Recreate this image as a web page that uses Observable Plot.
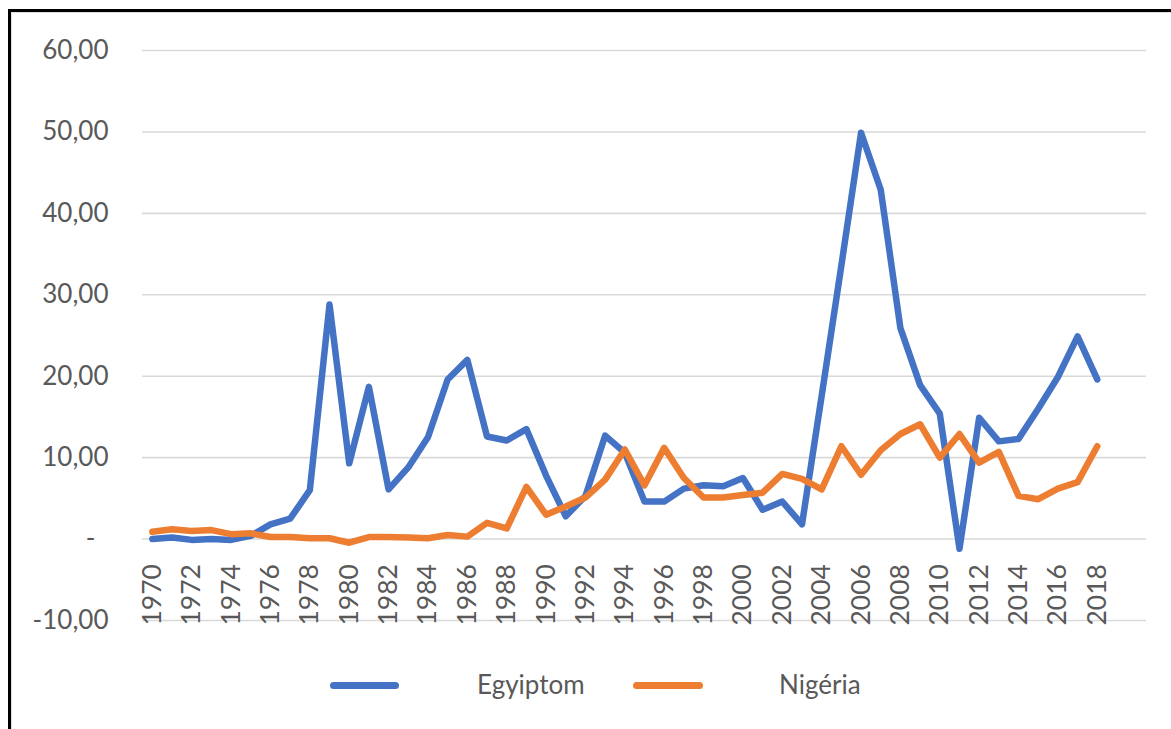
<!DOCTYPE html>
<html>
<head>
<meta charset="utf-8">
<script src="https://cdn.jsdelivr.net/npm/d3@7"></script>
<script src="https://cdn.jsdelivr.net/npm/@observablehq/plot@0.6"></script>
<style>
  html, body { margin: 0; padding: 0; background: #fff; overflow: hidden; }
  body { width: 1171px; height: 729px; position: relative; font-family: Lato, "Open Sans", sans-serif; }
  #frame { position: absolute; left: 8px; top: 9px; width: 1300px; height: 900px; border: 3px solid #000; box-sizing: border-box; box-shadow: inset 1px 1px 0 #ddd; }
  #chart { position: absolute; left: 0; top: 0; }
  .leg-line { position: absolute; height: 7px; border-radius: 4px; }
  .leg-text { position: absolute; font-size: 26px; color: #595959; line-height: 1; }
</style>
</head>
<body>
<div id="frame"></div>
<div id="chart"></div>
<div class="leg-line" style="left:330px; top:682px; width:69px; background:#4472C4"></div>
<div class="leg-text" style="left:477px; top:671px;">Egyiptom</div>
<div class="leg-line" style="left:633px; top:682px; width:70px; background:#ED7D31"></div>
<div class="leg-text" style="left:779px; top:671px;">Nigéria</div>
<script>
const years = d3.range(1970, 2019);
const egyiptom = [0.0, 0.2, -0.1, 0.0, -0.1, 0.4, 1.8, 2.5, 6.0, 28.8,
  9.3, 18.7, 6.1, 8.8, 12.5, 19.6, 22.0, 12.6, 12.1, 13.5,
  7.8, 2.8, 5.3, 12.7, 10.6, 4.6, 4.6, 6.2, 6.6, 6.5,
  7.5, 3.6, 4.6, 1.8, 17.6, 33.6, 49.9, 42.9, 25.9, 18.9,
  15.4, -1.2, 14.9, 12.0, 12.3, 16.0, 19.9, 24.9, 19.6];
const nigeria = [0.9, 1.2, 1.0, 1.1, 0.6, 0.7, 0.25, 0.25, 0.1, 0.1,
  -0.45, 0.25, 0.25, 0.2, 0.1, 0.5, 0.3, 2.0, 1.3, 6.4,
  3.0, 4.0, 5.1, 7.3, 11.0, 6.6, 11.2, 7.5, 5.1, 5.1,
  5.4, 5.7, 8.0, 7.4, 6.1, 11.4, 7.9, 10.9, 12.9, 14.1,
  10.0, 12.9, 9.4, 10.7, 5.3, 4.9, 6.2, 7.0, 11.4];
const yTicks = [-10, 0, 10, 20, 30, 40, 50, 60];
const xLabelYears = d3.range(1970, 2019, 2);

const egData = years.map((y, i) => ({year: y, value: egyiptom[i]}));
const ngData = years.map((y, i) => ({year: y, value: nigeria[i]}));
const fmt = d => d === 0 ? "-\u2002" : d.toFixed(2).replace(".", ",");

const chart = Plot.plot({
  width: 1171,
  height: 640,
  marginLeft: 142,
  marginRight: 25,
  marginTop: 50,
  marginBottom: 20,
  style: {fontFamily: "Lato, 'Open Sans', sans-serif", fontSize: "26px", color: "#595959", background: "transparent", overflow: "visible"},
  x: {type: "linear", domain: [1969.5, 2020.5], axis: null},
  y: {domain: [-10, 60], axis: null},
  marks: [
    Plot.gridY(yTicks, {stroke: "#d9d9d9", strokeOpacity: 1, strokeWidth: 1.6}),
    Plot.axisY(yTicks, {tickSize: 0, tickPadding: 34, tickFormat: fmt, fill: "#595959", fontSize: 26, label: null}),
    Plot.text(xLabelYears, {x: d => d, y: () => 0, text: d => String(d), rotate: -90, textAnchor: "end", lineAnchor: "middle", dy: 25, fill: "#595959", fontSize: 26.5}),
    Plot.lineY(egData, {x: "year", y: "value", stroke: "#4472C4", strokeWidth: 6.5, strokeLinejoin: "round", strokeLinecap: "round"}),
    Plot.lineY(ngData, {x: "year", y: "value", stroke: "#ED7D31", strokeWidth: 6.5, strokeLinejoin: "round", strokeLinecap: "round"})
  ]
});
document.getElementById("chart").appendChild(chart);
</script>
</body>
</html>
